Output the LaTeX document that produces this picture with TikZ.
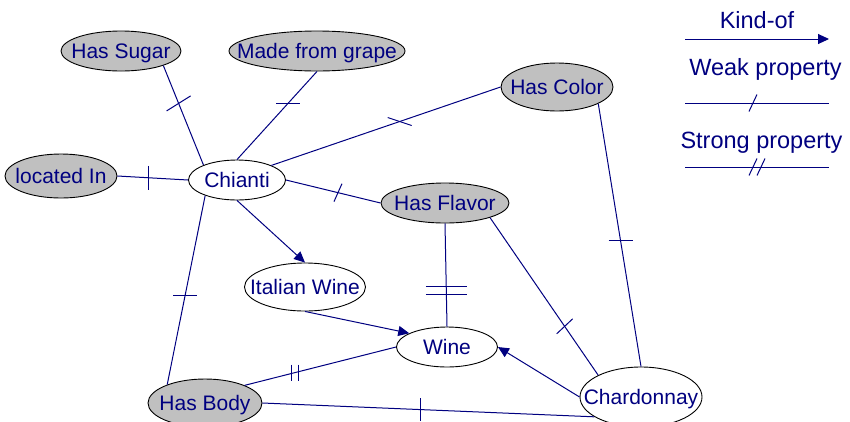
\documentclass[tikz,border=0pt]{standalone}
\usepackage{fontspec}
\setmainfont{Liberation Sans}
\usetikzlibrary{arrows.meta,shapes.geometric}
\definecolor{ink}{RGB}{0,0,128}
\definecolor{propfill}{RGB}{192,192,192}
\begin{document}
\begin{tikzpicture}[x=1pt,y=-1pt,
  concept/.style={ellipse, draw=black, line width=0.9pt, text=ink, inner sep=0pt,
    text height=15pt, text depth=0pt, font=\fontsize{21}{25}\selectfont},
  classnode/.style={concept, fill=white},
  propnode/.style={concept, fill=propfill},
  link/.style={draw=ink, line width=1pt},
  kindof/.style={link, -{Triangle[length=11pt,width=10pt]}},
  tick/.style={draw=ink, line width=1pt},
  legendtext/.style={text=ink, font=\fontsize{23.5}{28}\selectfont, anchor=base, inner sep=0pt},
]
\useasboundingbox (0,0) rectangle (850,421);

% concepts
\node[propnode, minimum width=120pt, minimum height=40pt] (sugar) at (121,51) {\makebox[0pt]{Has Sugar}};
\node[propnode, minimum width=176pt, minimum height=40pt] (grape) at (317,51) {\makebox[0pt]{Made from grape}};
\node[propnode, minimum width=112pt, minimum height=44pt] (located) at (61,176) {\makebox[0pt]{located In}};
\node[classnode, minimum width=97pt, minimum height=40pt] (chianti) at (237,180) {\makebox[0pt]{Chianti}};
\node[propnode, minimum width=112pt, minimum height=48pt] (color) at (557,87) {\makebox[0pt]{Has Color}};
\node[propnode, minimum width=128pt, minimum height=40pt] (flavor) at (445,203) {\makebox[0pt]{Has Flavor}};
\node[classnode, minimum width=121pt, minimum height=48pt] (italian) at (305,287) {\makebox[0pt]{Italian Wine}};
\node[classnode, minimum width=101pt, minimum height=40pt] (wine) at (447,347) {\makebox[0pt]{Wine}};
\node[propnode, minimum width=114pt, minimum height=48pt] (body) at (205,403) {\makebox[0pt]{Has Body}};
\node[classnode, minimum width=122pt, minimum height=60pt] (chard) at (641,397) {\makebox[0pt]{Chardonnay}};

% weak properties (single tick)
\draw[link] (sugar.-19) -- coordinate[pos=0.38] (t1) (chianti.156);
\draw[tick] ([shift={(-12,7.5)}]t1) -- ([shift={(12,-7.5)}]t1);

\draw[link] (grape.south) -- coordinate[pos=0.36] (t2) (chianti.north);
\draw[tick] ([shift={(-12,0)}]t2) -- ([shift={(12,0)}]t2);

\draw[link] (chianti.23) -- coordinate[pos=0.56] (t3) (color.west);
\draw[tick] ([shift={(-12,-4)}]t3) -- ([shift={(12,4)}]t3);

\draw[link] (located.east) -- coordinate[pos=0.44] (t4) (chianti.west);
\draw[tick] ([shift={(0,-12)}]t4) -- ([shift={(0,12)}]t4);

\draw[link] (chianti.east) -- coordinate[pos=0.55] (t5) (flavor.west);
\draw[tick] ([shift={(4,-9)}]t5) -- ([shift={(-4,9)}]t5);

\draw[link] (chianti.206) -- coordinate[pos=0.53] (t6) (body.154);
\draw[tick] ([shift={(-12,0)}]t6) -- ([shift={(12,0)}]t6);

\draw[link] (body.east) -- coordinate[pos=0.476] (t9) (chard.203);
\draw[tick] ([shift={(0,-11.5)}]t9) -- ([shift={(0,11.5)}]t9);

\draw[link] (flavor.-18) -- coordinate[pos=0.69] (t10) (chard.153);
\draw[tick] ([shift={(-8,7.5)}]t10) -- ([shift={(8,-7.5)}]t10);

\draw[link] (color.-22) -- coordinate[pos=0.52] (t11) (chard.north);
\draw[tick] ([shift={(-12,0)}]t11) -- ([shift={(12,0)}]t11);

% strong properties (double tick)
\draw[link] (flavor.south) -- coordinate[pos=0.654] (t7) (wine.north);
\draw[tick] ([shift={(-20.5,-4)}]t7) -- ([shift={(20.5,-4)}]t7);
\draw[tick] ([shift={(-20.5,4)}]t7) -- ([shift={(20.5,4)}]t7);

\draw[link] (body.24) -- coordinate[pos=0.334] (t8) (wine.west);
\draw[tick] ([shift={(-3.5,-8)}]t8) -- ([shift={(-3.5,8)}]t8);
\draw[tick] ([shift={(3.5,-8)}]t8) -- ([shift={(3.5,8)}]t8);

% kind-of links
\draw[kindof] (chianti.south) -- (italian.north);
\draw[kindof] (italian.south) -- (wine.160);
\draw[kindof] (chard.west) -- (wine.east);

% legend
\node[legendtext] (lgkind) at (757,28) {Kind-of};
\coordinate (k1) at (685,39);
\coordinate (k2) at (829,39);
\draw[kindof] (k1) -- (k2);

\node[legendtext] (lgweak) at (765.5,75) {Weak property};
\coordinate (w1) at (685,103);
\coordinate (w2) at (829,103);
\draw[link] (w1) -- coordinate[pos=0.472] (wt) (w2);
\draw[tick] ([shift={(4,-8.5)}]wt) -- ([shift={(-4,8.5)}]wt);

\node[legendtext] (lgstrong) at (761.5,148) {Strong property};
\coordinate (s1) at (685,167);
\coordinate (s2) at (829,167);
\draw[link] (s1) -- coordinate[pos=0.5] (st) (s2);
\draw[tick] ([shift={(0,-8.5)}]st) -- ([shift={(-8,8.5)}]st);
\draw[tick] ([shift={(8,-8.5)}]st) -- ([shift={(0,8.5)}]st);
\end{tikzpicture}
\end{document}
